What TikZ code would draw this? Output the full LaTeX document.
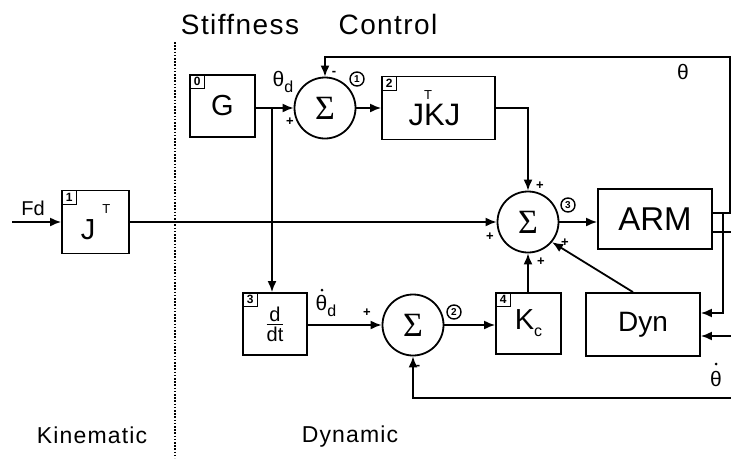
\documentclass[tikz,border=0pt]{standalone}
\usepackage{amsmath}
\usepackage{fontspec}
\setmainfont{Liberation Sans}
\newfontfamily\widefont[LetterSpace=5]{Liberation Sans}
\newfontfamily\sigmafont{Liberation Serif}
\usetikzlibrary{arrows.meta}
\newcommand{\fs}[1]{\fontsize{#1}{#1}\selectfont}

\begin{document}
\begin{tikzpicture}[x=1pt, y=-1pt, line width=1.8pt, >={Latex[length=11pt,width=9pt]},
  blk/.style={draw, inner sep=0pt, font=\fs{29}},
  sumnode/.style={draw, circle, inner sep=0pt, minimum size=61pt, font=\sigmafont\fs{34}},
  idx/.style={draw, line width=1.2pt, anchor=north west, minimum width=15pt,
    minimum height=14pt, inner sep=0pt, font=\fs{12}\bfseries},
  num/.style={draw, circle, line width=1.4pt, minimum size=14pt, inner sep=0pt, font=\fs{10}\bfseries},
  sgn/.style={font=\fs{13}\bfseries, inner sep=0pt},
  sig/.style={font=\fs{21}, inner sep=0pt},
  title/.style={font=\widefont\fs{28}, inner sep=0pt}]
  \useasboundingbox (0,0) rectangle (731,458);

  % headings and the split line
  \node[title] (stiff) at (240,24) {Stiffness};
  \node[title] (ctrl) at (388,24) {Control};
  \node[title, font=\widefont\fs{23}] (kin) at (92,435) {Kinematic};
  \node[title, font=\widefont\fs{23}] (dynm) at (350,437) {Dynamic};
  \draw[line width=2pt, dash pattern=on 1.6pt off 1.6pt] (175,42) -- (175,458);

  % blocks
  \node[blk, minimum width=65pt, minimum height=62pt] (g) at (222.5,106) {G};
  \node[idx] (i0) at (g.north west) {0};
  \node[sumnode] (s1) at (325,108) {Σ};
  \node[blk, minimum width=113pt, minimum height=63pt, font=\fs{31}] (jkj) at (438.5,108)
    {J\rlap{\raisebox{26pt}{\fs{13}T}}KJ\kern8pt};
  \node[idx] (i2) at (jkj.north west) {2};
  \node[blk, minimum width=67pt, minimum height=63pt] (jt) at (95.5,222)
    {\raisebox{-6pt}{J}\kern7pt\raisebox{20pt}{\fs{13}T}};
  \node[idx] (i1) at (jt.north west) {1};
  \node[sumnode] (s3) at (528,222) {Σ};
  \node[blk, minimum width=114pt, minimum height=60pt, font=\fs{33}] (arm) at (655,219) {ARM};
  \node[blk, minimum width=64pt, minimum height=62pt, font=\fs{20}] (dt) at (275,324)
    {$\genfrac{}{}{1.5pt}{}{\mbox{d}}{\mbox{dt}}$};
  \node[idx] (i3) at (dt.north west) {3};
  \node[sumnode] (s2) at (413,325) {Σ};
  \node[blk, minimum width=65pt, minimum height=61pt] (kc) at (528.5,323.5)
    {K\raisebox{-7pt}{\fs{16}c}};
  \node[idx] (i4) at (kc.north west) {4};
  \node[blk, minimum width=114pt, minimum height=63pt, font=\fs{28}] (dyn) at (643,324.5) {Dyn};

  % free ends
  \coordinate (fin) at (12,222);
  \coordinate (br) at (272,108);
  \coordinate (thA) at (723,213);
  \coordinate (thB) at (730,213);
  \coordinate (thC) at (730,57);
  \coordinate (thD) at (723,313);
  \coordinate (tdA) at (731,232);
  \coordinate (tdB) at (731,336);
  \coordinate (tdC) at (731,398);

  % connectors
  \draw[->] (fin) -- (jt.west |- fin);
  \draw[->] (jt.east) -- (s3.west);
  \draw[->] (g.east |- s1.west) -- (s1.west);
  \draw[->] (br) -- (br |- dt.north);
  \draw[->] (s1.east) -- (jkj.west |- s1.east);
  \draw[->] (jkj.east) -| (s3.north);
  \draw[->] (s3.east) -- (arm.west |- s3.east);
  \draw[->] (dt.east |- s2.west) -- (s2.west);
  \draw[->] (s2.east) -- (kc.west |- s2.east);
  \draw[->] (kc.north -| s3.south) -- (s3.south);
  \draw[->] ([xshift=-10pt]dyn.north) -- (s3.-40);
  \draw[->] (arm.east |- thB) -- (thB) -- (thC) -| (s1.north);
  \draw[->] (thA) -- (thD) -- (thD -| dyn.east);
  \draw (arm.east |- tdA) -- (tdA);
  \draw[->] (tdB) -- (tdB -| dyn.east);
  \draw[->] (tdC) -| (s2.south);

  % signal names
  \node[font=\fs{20}, inner sep=0pt] (lfd) at (33,208) {Fd};
  \node[sig] (lthd) at (283,82) {θ\raisebox{-6pt}{\fs{16}d}};
  \node[sig] (ldthd) at (326,306) {θ\raisebox{-6pt}{\fs{16}d}};
  \fill (322,290) circle (1.5pt);
  \node[sig] (lth) at (683,72) {θ};
  \node[sig] (ldth) at (716,379) {θ};
  \fill (716,364) circle (1.5pt);

  % signs and sum numbers
  \node[sgn] (p1) at (290,122) {+};
  \node[sgn] (m1) at (334,73) {-};
  \node[num] (c1) at (357,79) {1};
  \node[sgn] (p2) at (367,313) {+};
  \node[sgn] (m2) at (418,367) {-};
  \node[num] (c2) at (454,312) {2};
  \node[sgn] (p3a) at (540,186) {+};
  \node[sgn] (p3b) at (490,237) {+};
  \node[sgn] (p3c) at (541,262) {+};
  \node[sgn] (p3d) at (565,243) {+};
  \node[num] (c3) at (568,205) {3};
\end{tikzpicture}
\end{document}
